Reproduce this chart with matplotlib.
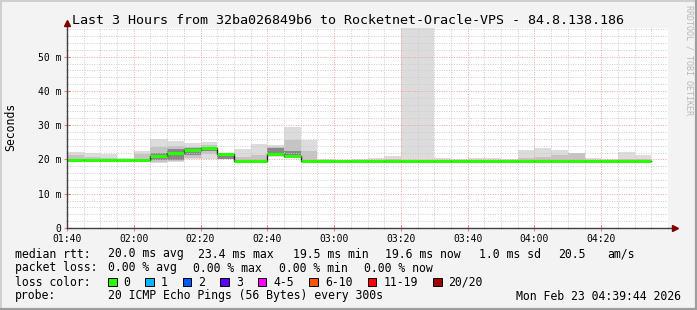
import matplotlib
matplotlib.use("Agg")
import matplotlib.pyplot as plt
from matplotlib.patches import Rectangle
from matplotlib.ticker import MultipleLocator, FuncFormatter
import numpy as np

# 5 minute steps, minutes after 01:40
step_min = np.arange(0, 175, 5)

# median rtt per step (ms)
median = [19.7, 19.7, 19.7, 19.7, 19.7, 21.0, 22.0, 22.9, 23.4, 21.5,
          19.6, 19.6, 21.7, 21.1, 19.6, 19.6, 19.6, 19.6, 19.6, 19.6,
          19.6, 19.6, 19.6, 19.6, 19.6, 19.6, 19.6, 19.6, 19.6, 19.6,
          19.6, 19.6, 19.6, 19.6, 19.6]

# smoke: min / max of the 20 pings
ping_min = [19.4, 19.5, 19.5, 19.5, 19.5, 19.0, 19.2, 20.0, 20.2, 20.0,
            19.4, 19.4, 20.6, 20.4, 19.4, 19.4, 19.4, 19.4, 19.4, 19.4,
            19.3, 19.3, 19.4, 19.4, 19.4, 19.4, 19.4, 19.4, 19.4, 19.4,
            19.4, 19.4, 19.4, 19.4, 19.4]
ping_max = [22.2, 21.9, 21.7, 20.4, 22.5, 25.9, 25.5, 24.9, 25.1, 22.0,
            23.1, 24.6, 24.1, 29.6, 25.7, 20.0, 19.9, 20.1, 20.3, 20.9,
            150.0, 150.0, 20.3, 20.2, 20.3, 20.3, 20.0, 22.8, 23.3, 22.8,
            22.0, 20.4, 20.0, 22.2, 21.3]

# inner smoke band
mid_lo = [19.6, 19.6, 19.6, 19.6, 19.8, 19.4, 19.6, 20.5, 21.5, 20.0,
          19.5, 19.5, 21.0, 21.0, 19.6, 19.5, 19.5, 19.5, 19.5, 19.5,
          19.5, 19.5, 19.5, 19.5, 19.5, 19.5, 19.5, 19.5, 19.5, 19.5,
          19.5, 19.5, 19.5, 19.5, 19.5]
mid_hi = [21.2, 20.8, 20.5, 19.9, 21.5, 23.7, 23.9, 23.6, 24.3, 21.8,
          20.6, 21.2, 23.7, 25.8, 22.4, 19.8, 19.7, 19.8, 19.9, 20.2,
          19.9, 19.9, 19.8, 19.8, 19.9, 19.9, 19.8, 20.4, 20.6, 21.4,
          21.8, 19.9, 19.8, 20.2, 20.1]

# dense core of the smoke
nan = np.nan
core_lo = [nan, nan, nan, nan, nan, 19.8, 19.8, 21.4, 22.5, 20.1,
           nan, nan, 22.0, 21.2, nan, nan, nan, nan, nan, nan,
           nan, nan, nan, nan, nan, nan, nan, nan, nan, nan,
           nan, nan, nan, nan, nan]
core_hi = [nan, nan, nan, nan, nan, 22.0, 23.0, 23.2, 23.6, 21.4,
           nan, nan, 23.4, 22.6, nan, nan, nan, nan, nan, nan,
           nan, nan, nan, nan, nan, nan, nan, nan, nan, nan,
           nan, nan, nan, nan, nan]

tick_labels = ["01:40", "02:00", "02:20", "02:40", "03:00", "03:20", "03:40", "04:00", "04:20"]

rtt_stats = ["20.0 ms avg", "23.4 ms max", "19.5 ms min", "19.6 ms now", "1.0 ms sd", "20.5", "am/s"]
loss_stats = ["0.00 % avg", "0.00 % max", "0.00 % min", "0.00 % now"]
loss_labels = ["0", "1", "2", "3", "4-5", "6-10", "11-19", "20/20"]
loss_colors = ["#26ff00", "#00b8ff", "#0059ff", "#5e00ff", "#ff00ff", "#ff5500", "#ff0000", "#a10000"]

plt.rcParams["font.family"] = "DejaVu Sans Mono"

W, H = 697, 310
fig = plt.figure(figsize=(W / 100, H / 100), dpi=100, facecolor="#f3f3f3")
L, R, T, B = 67, 668, 28, 228
ax = fig.add_axes([L / W, 1 - B / H, (R - L) / W, (B - T) / H])
ax.set_facecolor("white")

def ftext(x, y, s, **kw):
    kw.setdefault("va", "center")
    kw.setdefault("fontsize", 8.3)
    fig.text(x / W, 1 - y / H, s, **kw)

t = step_min
lo, hi = np.array(ping_min), np.array(ping_max)
ax.bar(t, hi - lo, bottom=lo, width=5, align="edge", color="#dcdcdc", linewidth=0, zorder=1)
mlo, mhi = np.array(mid_lo), np.array(mid_hi)
ax.bar(t, mhi - mlo, bottom=mlo, width=5, align="edge", color="#c4c4c4", linewidth=0, zorder=1.1)
clo, chi = np.array(core_lo), np.array(core_hi)
ax.bar(t, chi - clo, bottom=clo, width=5, align="edge", color="#888888", linewidth=0, zorder=1.2)

# median: dark step line with loss colored segments on top
edges = np.append(t, t[-1] + 5)
ax.step(edges, np.append(median, median[-1]), where="post", color="#202020", lw=1, zorder=3)
ax.hlines(median, t, t + 5, color=loss_colors[0], lw=2.2, zorder=3.5)

ax.set_xlim(0, 180)
ax.set_ylim(0, 200 / 3.427)
ax.xaxis.set_major_locator(MultipleLocator(20))
ax.xaxis.set_minor_locator(MultipleLocator(5))
ax.yaxis.set_major_locator(MultipleLocator(10))
ax.yaxis.set_minor_locator(MultipleLocator(2))
ax.set_xticks(np.arange(0, 180, 20), tick_labels)
ax.yaxis.set_major_formatter(FuncFormatter(lambda v, p: "0" if v == 0 else "%d m" % v))

ax.set_axisbelow(False)
ax.grid(which="minor", color="#cccccc", ls=(0, (1, 1.5)), lw=0.7)
ax.grid(which="major", color="#f2a0a0", ls=(0, (1, 1.5)), lw=0.7)
ax.tick_params(which="major", direction="inout", length=4, color="#f08080", labelsize=7, pad=2)
ax.tick_params(which="minor", direction="inout", length=2, color="#bbbbbb")
for s in ax.spines.values():
    s.set_visible(False)

# axes with arrows
ax.plot([0, 1.01], [0, 0], transform=ax.transAxes, color="#404040", lw=1, clip_on=False, zorder=6)
ax.plot([0, 0], [0, 1.02], transform=ax.transAxes, color="#404040", lw=1, clip_on=False, zorder=6)
ax.plot(1.012, 0, marker=">", ms=4, color="#7f0000", transform=ax.transAxes, clip_on=False, zorder=7)
ax.plot(0, 1.025, marker="^", ms=4, color="#7f0000", transform=ax.transAxes, clip_on=False, zorder=7)

ftext(348, 20, "Last 3 Hours from 32ba026849b6 to Rocketnet-Oracle-VPS - 84.8.138.186",
      ha="center", fontsize=9.6)
ftext(11, 127, "Seconds", ha="center", rotation=90)
ftext(689, 60, "RRDTOOL / TOBI OETIKER", ha="center", rotation=270, fontsize=6, color="#b8b8b8")

# legend
ftext(15, 254, "median rtt:")
for x, s in zip([107.6, 197.8, 293, 385, 479, 558, 607.6], rtt_stats):
    ftext(x, 254, s)
ftext(15, 268, "packet loss:")
for x, s in zip([108, 193.3, 279, 364.4], loss_stats):
    ftext(x, 268, s)
ftext(15, 282, "loss color:")
bx = 108
for lab, col in zip(loss_labels, loss_colors):
    fig.patches.append(Rectangle((bx / W, 1 - 286 / H), 8.5 / W, 8.5 / H, transform=fig.transFigure,
                                 facecolor=col, edgecolor="black", lw=0.7))
    ftext(bx + 15.5, 282, lab)
    bx = bx + 15.5 + len(lab) * 6.97 + 15
ftext(15, 296, "probe:")
ftext(107.6, 296, "20 ICMP Echo Pings (56 Bytes) every 300s")
ftext(681, 296, "Mon Feb 23 04:39:44 2026", ha="right")

# frame shading
fig.add_artist(plt.Line2D([0, 1], [1 - 0.5 / H] * 2, color="#cfcfcf", lw=1.4))
fig.add_artist(plt.Line2D([0.5 / W] * 2, [0, 1], color="#cfcfcf", lw=1.4))
fig.add_artist(plt.Line2D([0, 1], [0.8 / H] * 2, color="#9e9e9e", lw=1.6))
fig.add_artist(plt.Line2D([1 - 0.8 / W] * 2, [0, 1], color="#9e9e9e", lw=1.6))

fig.savefig("out.png", dpi=100, facecolor=fig.get_facecolor())
